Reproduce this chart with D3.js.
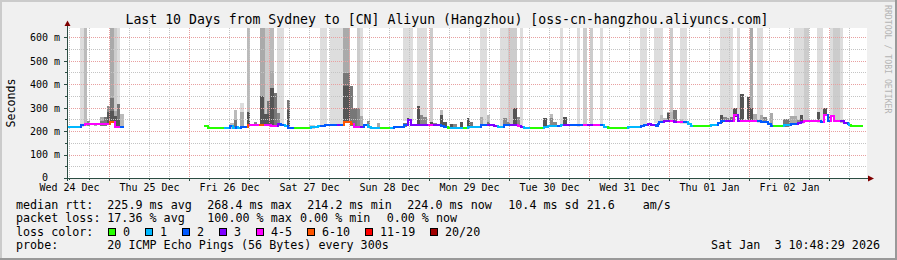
<!DOCTYPE html>
<html><head><meta charset="utf-8">
<script src="https://cdn.jsdelivr.net/npm/d3@7"></script>
<style>
html,body{margin:0;padding:0;background:#f0f0f0;}
svg{display:block;}
text{font-family:"DejaVu Sans Mono",monospace;}
</style>
</head><body>
<svg id="c" width="897" height="260"></svg>
<script>
// ---------------- DATA ----------------
const title = "Last 10 Days from Sydney to [CN] Aliyun (Hangzhou) [oss-cn-hangzhou.aliyuncs.com]";
const yTickValues = [0, 100, 200, 300, 400, 500, 600];
const yTickLabels = ["0", "100 m", "200 m", "300 m", "400 m", "500 m", "600 m"];
const yMinorValues = [50, 150, 250, 350, 450, 550];
const xTickLabels = ["Wed 24 Dec","Thu 25 Dec","Fri 26 Dec","Sat 27 Dec","Sun 28 Dec","Mon 29 Dec","Tue 30 Dec","Wed 31 Dec","Thu 01 Jan","Fri 02 Jan"];
const xTickHours = [12, 36, 60, 84, 108, 132, 156, 180, 204, 228]; // hours since Wed 24 Dec 00:00
const lossColors = ["#26ff00","#00b8ff","#0059ff","#7e00ff","#ff00ff","#ff5500","#ff0000","#a10000"];
const lossLabels = ["0","1","2","3","4-5","6-10","11-19","20/20"];
const smokeShades = ["#dddddd","#cccccc","#bbbbbb","#aaaaaa","#888888","#777777","#555555"];

// median rtt runs: [startHour, endHour, ms, lossBucket]
const medianRuns = [
 [11.4,15.4,219,1],[15.4,16.6,224,2],[16.6,23.9,229,4],[23.9,25.4,240,5],[25.4,27.4,218,4],[27.4,28.4,219,2],
 [52.4,53.4,221,0],[53.4,58.4,215,0],[58.4,59.9,215,1],[59.9,60.9,220,2],[60.9,61.9,215,1],[61.9,62.4,219,2],
 [62.4,63.4,214,1],[63.4,65.4,219,2],[65.4,65.9,227,5],[65.9,68.9,227,4],[68.9,70.4,227,5],[70.4,72.4,227,4],
 [72.4,74.4,223,4],[74.4,75.4,229,3],[75.4,76.4,226,2],[76.4,77.4,223,1],[77.4,79.4,214,2],[79.4,84.4,214,0],
 [84.4,86.4,217,1],[86.4,87.4,220,1],[87.4,88.4,223,2],[88.4,92.4,227,2],[92.4,93.4,227,3],[93.4,94.3,227,2],
 [94.3,96.3,240,5],[96.3,97.3,229,5],[97.3,99.3,219,4],[99.3,100.3,219,3],[100.3,101.3,226,2],[101.3,102.3,219,1],
 [102.3,105.3,215,1],[105.3,108.3,215,0],[108.3,109.3,215,1],[109.3,112.3,219,2],[112.3,113.3,224,2],[113.3,114.3,247,3],
 [114.3,119.8,228,3],[119.8,121.3,227,4],[121.3,123.3,227,3],[123.3,124.3,223,2],[124.3,125.3,218,2],[125.3,126.3,214,0],
 [126.3,130.3,215,1],[130.3,131.3,215,0],[131.3,135.3,219,1],[135.3,137.3,226,2],[137.3,139.3,226,3],[139.3,140.3,223,3],
 [140.3,142.3,219,1],[142.3,144.3,226,2],[144.3,146.3,227,3],[146.3,147.3,223,4],[147.3,148.3,219,3],[148.3,150.3,214,1],
 [150.3,154.3,214,0],[154.3,155.3,219,1],[155.3,158.3,222,1],[158.3,159.3,223,2],[159.3,160.3,226,1],[160.3,162.3,227,3],
 [162.3,164.3,227,2],[164.3,166.3,225,2],[166.3,167.3,227,4],[167.3,169.3,227,3],[169.3,171.3,227,4],[171.3,172.3,227,2],
 [172.3,173.3,219,1],[173.3,179.3,214,0],[179.3,183.3,218,1],[183.3,184.3,223,2],[184.3,185.3,227,2],[185.3,186.3,232,3],
 [186.3,187.8,227,3],[187.8,188.3,223,2],[188.3,188.8,229,2],[188.8,190.3,240,2],[190.3,192.3,244,3],[192.3,193.3,244,4],
 [193.3,194.3,240,3],[194.3,196.3,240,4],[196.3,197.3,238,2],[197.3,198.3,229,1],[198.3,199.3,223,1],[199.3,204.3,223,0],
 [204.3,206.3,227,1],[206.3,207.3,235,2],[207.3,208.8,242,2],[208.8,211.3,243,3],[211.3,212.3,268,4],[212.3,213.3,243,3],
 [213.3,218.3,243,4],[218.3,219.3,243,2],[219.3,221.3,239,2],[221.3,222.3,229,2],[222.3,223.3,223,2],[223.3,226.3,223,0],
 [226.3,228.3,225,1],[228.3,229.3,229,2],[229.3,230.3,232,2],[230.3,231.3,236,3],[231.3,232.3,240,3],[232.3,237.3,243,4],
 [237.3,238.3,240,2],[238.3,239.3,269,4],[239.3,240.3,243,2],[240.3,241.3,266,4],[241.3,243.3,243,4],[243.3,244.3,242,3],
 [244.3,245.3,236,3],[245.3,245.8,229,2],[245.8,246.3,226,1],[246.3,250.3,223,0]
];

// smoke reaching above the chart top: [startHour, endHour, shade]
const fullSmoke = [
 [15.4,16.6,0],[16.6,17.4,2],[24.2,25.6,3],[25.6,26.4,1],[26.4,27.4,0],
 [65.4,66.4,2],[69.4,70.9,3],[70.9,72.4,1],[72.4,73.4,2],[74.4,76.4,0],
 [87.4,89.4,0],[90.4,94.3,0],[94.3,96.0,3],[96.0,96.3,2],[98.3,99.3,1],[99.3,100.3,0],
 [112.3,115.3,0],[116.3,119.3,0],[120.3,121.3,1],[135.3,137.3,0],[141.3,143.8,0],[143.8,146.3,1],
 [147.3,148.3,0],[159.3,160.3,0],[164.3,165.3,0],[166.3,167.3,1],[168.3,169.3,1],[171.3,172.3,0],
 [183.3,185.3,0],[187.5,190.3,0],[192.3,193.3,1],[195.3,197.3,0],[207.3,211.3,0],[212.3,213.3,0],
 [216.3,217.3,3],[218.3,220.3,0],[229.5,232.5,0],[232.5,234.1,1],[236.3,238.3,0],[240.3,241.3,0],
 [241.3,243.3,1],[243.3,244.3,0]
];

// smoke below the chart top: [startHour, endHour, topMs, shade]
const partialSmoke = [
 [17.4,18.4,243,4],[19.4,20.4,235,3],[21.4,22.4,260,3],[21.4,22.4,243,5],[22.4,23.4,260,5],
 [23.4,24.4,307,4],[23.4,24.4,283,6],[24.4,25.4,343,5],[24.4,25.4,286,6],[25.4,26.4,286,3],[25.4,26.4,266,6],
 [26.4,27.4,316,5],[26.4,27.4,247,6],[27.4,28.4,272,2],
 [60.4,61.4,235,2],[61.4,62.4,290,2],[61.4,62.4,249,5],[63.4,64.4,320,0],[63.4,64.4,280,3],[65.4,66.4,283,6],
 [67.4,68.4,240,4],[69.4,70.4,351,6],[70.4,71.4,271,6],[71.4,72.4,328,5],[71.4,72.4,271,6],[72.4,73.4,456,3],
 [72.4,73.4,385,6],[73.4,74.4,361,5],[74.4,75.4,277,4],[77.4,78.4,333,5],[77.4,78.4,290,6],[83.9,85.9,224,1],
 [94.3,96.3,446,5],[94.3,96.3,392,6],[96.3,97.3,392,5],[97.3,98.3,300,5],[98.3,99.3,300,4],[99.3,100.3,265,3],
 [101.3,102.3,243,4],[104.3,105.3,236,3],[112.3,113.3,233,5],[113.3,114.3,255,6],[116.3,117.3,307,6],
 [117.3,118.3,269,4],[118.3,119.3,262,4],[120.3,121.3,240,6],[121.3,122.3,233,4],[123.3,124.3,290,2],
 [123.3,124.3,269,6],[124.3,125.3,240,6],[126.3,127.3,229,6],[127.3,128.3,229,4],[129.3,130.3,240,6],
 [131.3,132.3,255,6],[132.3,133.3,240,5],[135.3,136.3,262,3],[137.3,138.3,270,2],[137.3,138.3,240,5],
 [142.3,143.3,257,4],[143.3,144.3,240,4],[145.3,146.3,300,6],[146.3,147.3,262,4],[154.3,155.3,257,6],
 [156.3,157.3,274,2],[156.3,157.3,257,4],[157.3,158.3,240,4],[160.3,161.3,262,6],
 [189.3,190.3,269,2],[190.3,191.3,255,2],[191.3,192.3,280,3],[191.3,192.3,277,6],[192.3,193.3,280,2],
 [193.3,194.3,290,5],[195.3,196.3,252,2],[207.3,208.3,269,6],[208.3,209.3,262,4],[209.3,210.3,255,4],
 [210.3,211.3,262,5],[211.3,212.3,297,6],[212.3,213.3,257,4],[213.3,214.5,358,6],[215.3,216.3,347,6],
 [216.3,217.3,300,6],[217.3,218.3,272,3],[219.3,220.3,269,3],[220.3,221.3,262,4],[222.3,223.3,277,3],
 [226.3,228.3,252,5],[228.3,230.3,265,3],[230.3,231.3,247,4],[231.3,232.3,269,6],[236.3,237.3,280,6],
 [238.3,239.3,300,6],[239.3,240.3,266,6],[243.3,244.3,240,2]
];

// legend texts
const legendLabels = ["median rtt:", "packet loss:", "loss color:", "probe:"];
const medianStats = ["225.9 ms avg", "268.4 ms max", "214.2 ms min", "224.0 ms now", "10.4 ms sd", "21.6", "am/s"];
const lossStats = ["17.36 % avg", "100.00 % max", "0.00 % min", "0.00 % now"];
const probeText = "20 ICMP Echo Pings (56 Bytes) every 300s";
const stampText = "Sat Jan  3 10:48:29 2026";
const watermark = "RRDTOOL / TOBI OETIKER";

// ---------------- CHART ----------------
const W = 897, H = 260;
const L = 67, R = 867, T0 = 28, B = 178;
const base = Date.UTC(2025, 11, 24);
const T = h => new Date(base + h * 3600e3);
const x = d3.scaleUtc().domain([T(11.4), T(251.4)]).range([L, R]);
const yMax = (B - T0) / ((B - 37.3) / 600);
const y = d3.scaleLinear().domain([0, yMax]).range([B, T0]);

const svg = d3.select("#c");
// frame
svg.append("rect").attr("width", W).attr("height", H).attr("fill", "#f0f0f0");
svg.append("path").attr("d", `M0,0H${W}V2H2V${H}H0Z`).attr("fill", "#cbcbcb");
svg.append("path").attr("d", `M${W},${H}H0V${H-2}H${W-2}V0H${W}Z`).attr("fill", "#999999");

svg.append("defs").append("clipPath").attr("id", "clip")
  .append("rect").attr("x", L).attr("y", T0).attr("width", R - L).attr("height", B - T0);
svg.append("rect").attr("x", L).attr("y", T0).attr("width", R - L).attr("height", B - T0).attr("fill", "#ffffff");

function medianAt(h) {
  let best = null, bd = 1e9;
  for (const r of medianRuns) {
    if (h >= r[0] && h < r[1]) return r[2];
    const d = Math.min(Math.abs(h - r[0]), Math.abs(h - r[1]));
    if (d < bd) { bd = d; best = r[2]; }
  }
  return best;
}

// smoke
const smokeData = fullSmoke.map(d => ({h0: d[0], h1: d[1], top: yMax + 10, shade: d[2]}))
  .concat(partialSmoke.map(d => ({h0: d[0], h1: d[1], top: d[2], shade: d[3]})).sort((a, b) => a.shade - b.shade));
const smokeG = svg.append("g").attr("clip-path", "url(#clip)");
smokeG.selectAll("rect").data(smokeData).join("rect")
  .attr("x", d => Math.round(x(T(d.h0))))
  .attr("width", d => Math.max(1, Math.round(x(T(d.h1))) - Math.round(x(T(d.h0)))))
  .attr("y", d => Math.round(y(d.top)))
  .attr("height", d => Math.max(0, Math.round(y(medianAt((d.h0 + d.h1) / 2) - 6)) - Math.round(y(d.top))))
  .attr("fill", d => smokeShades[d.shade])
  .attr("shape-rendering", "crispEdges");

// grid
const gridG = svg.append("g").attr("shape-rendering", "crispEdges");
const minorH = d3.utcHour.every(6).range(x.domain()[0], x.domain()[1]).filter(d => d.getUTCHours() !== 0);
const majorH = d3.utcDay.range(x.domain()[0], x.domain()[1]);
gridG.selectAll(".vmin").data(minorH).join("line")
  .attr("x1", d => Math.round(x(d)) + 0.5).attr("x2", d => Math.round(x(d)) + 0.5)
  .attr("y1", T0).attr("y2", B).attr("stroke", "#c4c4c4").attr("stroke-dasharray", "1,1");
gridG.selectAll(".hmin").data(yMinorValues).join("line")
  .attr("x1", L).attr("x2", R)
  .attr("y1", d => Math.round(y(d)) + 0.5).attr("y2", d => Math.round(y(d)) + 0.5)
  .attr("stroke", "#c4c4c4").attr("stroke-dasharray", "1,1");
gridG.selectAll(".vmaj").data(majorH).join("line")
  .attr("x1", d => Math.round(x(d)) + 0.5).attr("x2", d => Math.round(x(d)) + 0.5)
  .attr("y1", T0).attr("y2", B).attr("stroke", "#e8a0a0").attr("stroke-dasharray", "1,1");
gridG.selectAll(".hmaj").data(yTickValues.slice(1)).join("line")
  .attr("x1", L).attr("x2", R)
  .attr("y1", d => Math.round(y(d)) + 0.5).attr("y2", d => Math.round(y(d)) + 0.5)
  .attr("stroke", "#e8a0a0").attr("stroke-dasharray", "1,1");

// median line
const lineG = svg.append("g").attr("shape-rendering", "crispEdges").attr("clip-path", "url(#clip)");
medianRuns.forEach((r, i) => {
  const x0 = Math.round(x(T(r[0]))), x1 = Math.round(x(T(r[1])));
  const yy = Math.round(y(r[2]));
  lineG.append("line").attr("x1", x0).attr("x2", x1).attr("y1", yy).attr("y2", yy)
    .attr("stroke", lossColors[r[3]]).attr("stroke-width", 2);
  const n = medianRuns[i + 1];
  if (n && Math.abs(n[0] - r[1]) < 0.01) {
    const y2 = Math.round(y(n[2]));
    if (y2 !== yy) {
      lineG.append("line").attr("x1", x1 + 1).attr("x2", x1 + 1)
        .attr("y1", Math.min(yy, y2) - 1).attr("y2", Math.max(yy, y2) + 1)
        .attr("stroke", lossColors[n[3]]).attr("stroke-width", 2);
    }
  }
});

// axes
const axisCol = "#2c4d43";
const ya = svg.append("g").attr("transform", `translate(${L},0)`)
  .call(d3.axisLeft(y).tickValues(yTickValues).tickSize(3).tickPadding(4).tickFormat((d, i) => yTickLabels[i]));
const yb = svg.append("g").attr("transform", `translate(${L},0)`)
  .call(d3.axisLeft(y).tickValues(yMinorValues).tickSize(2).tickFormat(""));
const xa = svg.append("g").attr("transform", `translate(0,${B})`)
  .call(d3.axisBottom(x).tickValues(majorH).tickSize(3).tickFormat(""));
const xb = svg.append("g").attr("transform", `translate(0,${B})`)
  .call(d3.axisBottom(x).tickValues(minorH).tickSize(2).tickFormat(""));
const xl = svg.append("g").attr("transform", `translate(0,${B})`)
  .call(d3.axisBottom(x).tickValues(xTickHours.map(T)).tickSize(0).tickPadding(6).tickFormat((d, i) => xTickLabels[i]));
[ya, yb, xa, xb, xl].forEach(g => {
  g.select(".domain").remove();
  g.selectAll("line").attr("stroke", axisCol).attr("shape-rendering", "crispEdges");
  g.selectAll("text").attr("font-family", "DejaVu Sans Mono").attr("font-size", 10).attr("fill", "#000");
});
ya.selectAll("text").attr("dy", "0.34em");
// the unit-less zero label is padded by two blank columns in RRDtool
ya.selectAll("text").filter(d => d === 0).attr("x", -19).attr("dy", "0.2em");

svg.append("line").attr("x1", L + 0.5).attr("x2", L + 0.5).attr("y1", B + 3).attr("y2", 25)
  .attr("stroke", axisCol).attr("shape-rendering", "crispEdges");
svg.append("line").attr("x1", L - 3).attr("x2", R + 2).attr("y1", B + 0.5).attr("y2", B + 0.5)
  .attr("stroke", axisCol).attr("shape-rendering", "crispEdges");
svg.append("path").attr("d", `M${L - 2.5},26 L${L + 3.5},26 L${L + 0.5},20.5 Z`).attr("fill", "#7f0000");
svg.append("path").attr("d", `M${R + 1},${B - 2.5} L${R + 1},${B + 3.5} L${R + 7},${B + 0.5} Z`).attr("fill", "#7f0000");

// title & labels
svg.append("text").attr("x", 447).attr("y", 24).attr("text-anchor", "middle")
  .attr("font-size", 13.2).attr("fill", "#000").text(title);
svg.append("text").attr("transform", "translate(15,103) rotate(-90)").attr("text-anchor", "middle")
  .attr("font-size", 11.6).attr("fill", "#000").text("Seconds");
svg.append("text").attr("transform", "translate(884.5,5) rotate(90)").attr("font-size", 8.2)
  .attr("fill", "#b4b4b4").text(watermark);

// legend
const rowY = [208.5, 222, 235.5, 249];
const lg = svg.append("g").attr("font-size", 11.7).attr("fill", "#000");
legendLabels.forEach((t, i) => lg.append("text").attr("x", 16).attr("y", rowY[i]).text(t));
const medX = [107.3, 207.3, 307.3, 407.3, 508.3, 586.7, 642.7];
medianStats.forEach((t, i) => lg.append("text").attr("x", medX[i]).attr("y", rowY[0]).text(t));
const lossX = [107.3, 207.3, 300, 386.7];
lossStats.forEach((t, i) => lg.append("text").attr("x", lossX[i]).attr("y", rowY[1]).text(t));
let sx = 108.3;
lossLabels.forEach((t, i) => {
  lg.append("rect").attr("x", Math.round(sx) + 0.5).attr("y", 228.5).attr("width", 7).attr("height", 7)
    .attr("fill", lossColors[i]).attr("stroke", "#000").attr("stroke-width", 1).attr("shape-rendering", "crispEdges");
  lg.append("text").attr("x", sx + 14.7).attr("y", rowY[2]).text(t);
  sx += 30 + 7 * t.length;
});
lg.append("text").attr("x", 107.3).attr("y", rowY[3]).text(probeText);
lg.append("text").attr("x", 880).attr("y", rowY[3]).attr("text-anchor", "end")
  .style("white-space", "pre").text(stampText);
</script>
</body></html>
